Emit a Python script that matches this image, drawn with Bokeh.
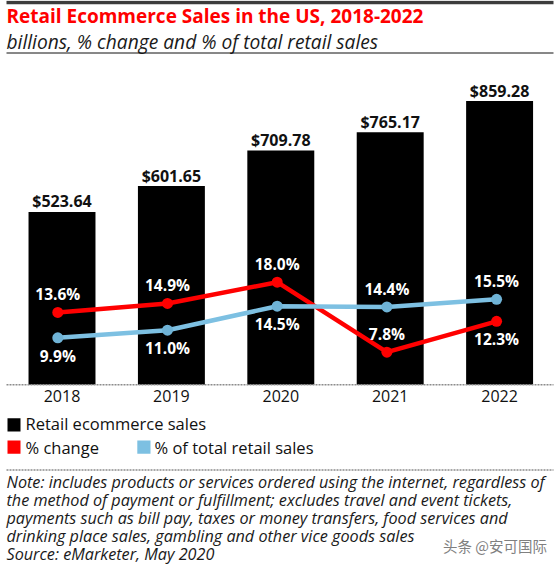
from bokeh.plotting import figure
from bokeh.models import Range1d
from bokeh.core.properties import value
from bokeh.embed import file_html
from bokeh.resources import INLINE

# ---------------- data ----------------
years = ["2018", "2019", "2020", "2021", "2022"]
sales = [523.64, 601.65, 709.78, 765.17, 859.28]          # billions
pct_change = [13.6, 14.9, 18.0, 7.8, 12.3]                 # % change
pct_total = [9.9, 11.0, 14.5, 14.4, 15.5]                  # % of total retail sales

title_text = "Retail Ecommerce Sales in the US, 2018-2022"
subtitle_text = "billions, % change and % of total retail sales"
legend_labels = ["Retail ecommerce sales", "% change", "% of total retail sales"]
note_lines = [
    "Note: includes products or services ordered using the internet, regardless of",
    "the method of payment or fulfillment; excludes travel and event tickets,",
    "payments such as bill pay, taxes or money transfers, food services and",
    "drinking place sales, gambling and other vice goods sales",
    "Source: eMarketer, May 2020",
]
watermark_text = "头条 @安可国际"

# label placement (+1 above the point, -1 below)
change_side = [1, 1, 1, 1, -1]
total_side = [-1, -1, -1, 1, 1]

# ---------------- style ----------------
W, H = 560, 566
FONT = value("Open Sans")
CJK = value("Noto Sans CJK SC")
RED = "#ff0000"
BLUE = "#7dc0e2"
L, R = 6, 553

idx = list(range(len(years)))

p = figure(width=W, height=H, output_backend="svg", toolbar_location=None,
           title=None, x_range=Range1d(0, W), y_range=Range1d(H, 0),
           x_axis_type=None, y_axis_type=None, min_border=0,
           outline_line_color=None, background_fill_color="white",
           border_fill_color="white")
p.extra_x_ranges = {"cat": Range1d(-0.5622, 4.5567), "pt": Range1d(-0.5223, 4.5825)}
p.extra_y_ranges = {"sales": Range1d(-550.3, 1163.8), "pct": Range1d(-23.44, 59.06)}

# header
p.segment(x0=[L], x1=[R], y0=[2], y1=[2], line_color="#3c3c3c", line_width=3.5)
p.text(x=[L], y=[15.3], text=[title_text], text_font=FONT, text_font_size="19px",
       text_font_style="bold", text_color=RED, text_align="left", text_baseline="middle")
p.text(x=[L], y=[40.5], text=[subtitle_text], text_font=FONT, text_font_size="19.2px",
       text_font_style="italic", text_color="#1a1a1a", text_align="left", text_baseline="middle")
p.segment(x0=[L], x1=[R], y0=[52.5], y1=[52.5], line_color="#111111", line_width=1)

# bars
p.vbar(x=idx, top=sales, bottom=0, width=0.612, x_range_name="cat", y_range_name="sales",
       fill_color="black", line_color=None)
p.segment(x0=[L], x1=[R], y0=[0], y1=[0], y_range_name="sales",
          line_color="#8c8c8c", line_width=1.5, line_dash="2 1")
p.text(x=idx, y=sales, text=[f"${v:.2f}" for v in sales], x_range_name="cat",
       y_range_name="sales", y_offset=-10.5, text_font=FONT, text_font_size="16px",
       text_font_style="bold", text_color="#111111", text_align="center",
       text_baseline="middle")

# lines
p.line(x=idx, y=pct_change, x_range_name="pt", y_range_name="pct",
       line_color=RED, line_width=4.5)
p.scatter(x=idx, y=pct_change, x_range_name="pt", y_range_name="pct",
          marker="circle", size=11, fill_color=RED, line_color=None)
p.line(x=idx, y=pct_total, x_range_name="pt", y_range_name="pct",
       line_color=BLUE, line_width=4.5)
p.scatter(x=idx, y=pct_total, x_range_name="pt", y_range_name="pct",
          marker="circle", size=11, fill_color="#6fb3d6", line_color=None)

p.text(x=idx, y=pct_change, text=[f"{v:.1f}%" for v in pct_change],
       x_range_name="pt", y_range_name="pct", y_offset=[-18 * s for s in change_side],
       text_font=FONT, text_font_size="15.5px", text_font_style="bold",
       text_color="white", text_align="center", text_baseline="middle")
p.text(x=idx, y=pct_total, text=[f"{v:.1f}%" for v in pct_total],
       x_range_name="pt", y_range_name="pct", y_offset=[-18 * s for s in total_side],
       text_font=FONT, text_font_size="15.5px", text_font_style="bold",
       text_color="white", text_align="center", text_baseline="middle")

# category labels
p.text(x=idx, y=[395.7] * len(years), text=years, x_range_name="cat",
       text_font=FONT, text_font_size="16px", text_color="#111111",
       text_align="center", text_baseline="middle")

# legend
p.quad(left=[7, 7, 136.8], right=[20, 20, 150], top=[417.7, 440, 440],
       bottom=[431, 453.3, 453.3], fill_color=["black", RED, BLUE], line_color=None)
p.text(x=[25, 25, 154], y=[423.3, 446.7, 446.7], text=legend_labels,
       text_font=FONT, text_font_size="16.5px", text_color="#111111",
       text_align="left", text_baseline="middle")

# notes
p.segment(x0=[L], x1=[R], y0=[469.5], y1=[469.5], line_color="#8c8c8c",
          line_width=1.5, line_dash="2 1")
p.text(x=[L] * len(note_lines), y=[481 + 18 * i for i in range(len(note_lines))],
       text=note_lines, text_font=FONT, text_font_size="16.2px", text_font_style="italic",
       text_color="#1a1a1a", text_align="left", text_baseline="middle")
p.text(x=[546.4], y=[544.5], text=[watermark_text], text_font=CJK,
       text_font_size="14.5px", text_color="#808080", text_align="right",
       text_baseline="middle")

open("out.html", "w").write(file_html(p, INLINE))
